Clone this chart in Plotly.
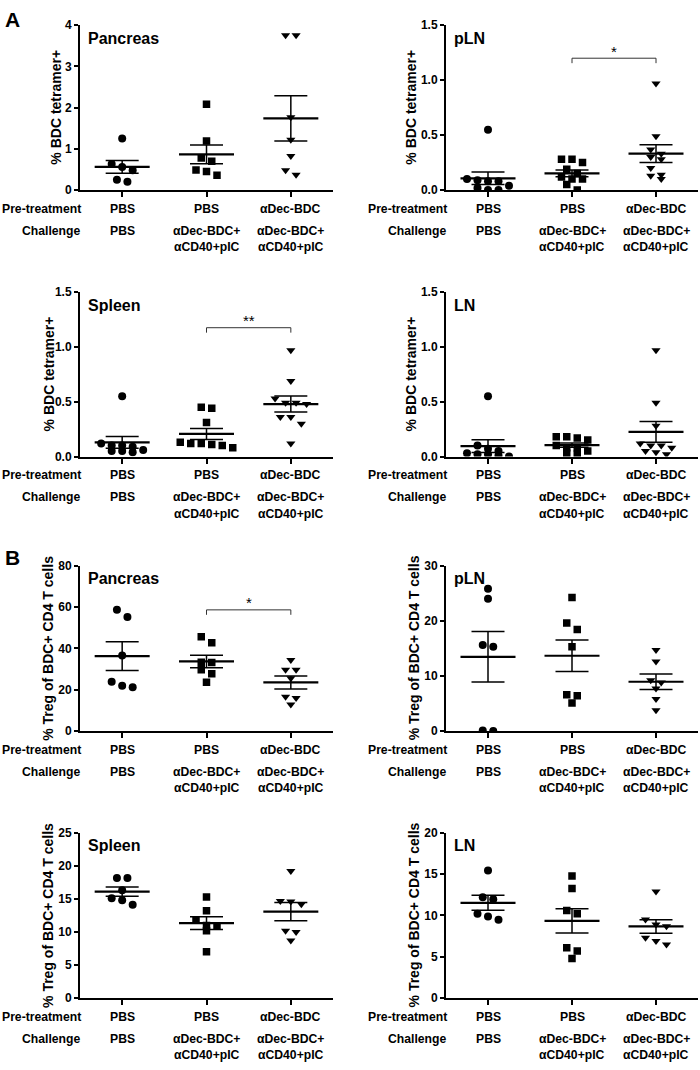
import plotly.graph_objects as go
import numpy as np

W, H = 700, 1070

# ---------------- data ----------------
pretreat_labels = ["PBS", "PBS", "αDec-BDC"]
challenge_labels = [["PBS"], ["αDec-BDC+", "αCD40+pIC"], ["αDec-BDC+", "αCD40+pIC"]]

# A: % BDC tetramer+
panc_bdc_pbs = [1.25, 0.63, 0.56, 0.48, 0.20, 0.25]
panc_bdc_chal = [2.08, 1.19, 0.78, 0.70, 0.49, 0.45, 0.36]
panc_bdc_dec = [3.76, 3.76, 1.77, 1.22, 0.83, 0.48, 0.37]

pln_bdc_pbs = [0.55, 0.10, 0.09, 0.08, 0.08, 0.04, 0.02, 0.00, 0.00]
pln_bdc_chal = [0.28, 0.25, 0.28, 0.19, 0.15, 0.12, 0.10, 0.10, 0.05, 0.00]
pln_bdc_dec = [0.97, 0.49, 0.37, 0.33, 0.30, 0.28, 0.20, 0.14, 0.13, 0.10]

spl_bdc_pbs = [0.55, 0.12, 0.10, 0.10, 0.09, 0.06, 0.05, 0.05, 0.04]
spl_bdc_chal = [0.45, 0.44, 0.31, 0.13, 0.12, 0.12, 0.11, 0.10, 0.08]
spl_bdc_dec = [0.97, 0.69, 0.53, 0.49, 0.48, 0.49, 0.36, 0.30, 0.36, 0.12]

ln_bdc_pbs = [0.55, 0.10, 0.07, 0.05, 0.03, 0.02, 0.01, 0.00, 0.02]
ln_bdc_chal = [0.18, 0.17, 0.18, 0.15, 0.10, 0.08, 0.08, 0.05, 0.03, 0.02]
ln_bdc_dec = [0.97, 0.49, 0.28, 0.12, 0.10, 0.10, 0.08, 0.05, 0.04, 0.02]

# B: % Treg of BDC+ CD4 T cells
panc_treg_pbs = [58.6, 55.2, 36.5, 23.8, 21.2, 21.9]
panc_treg_chal = [45.6, 42.7, 33.2, 33.3, 29.6, 27.7, 23.6]
panc_treg_dec = [34.4, 29.6, 29.6, 25.5, 16.6, 16.0, 12.9]

pln_treg_pbs = [25.8, 24.0, 15.6, 15.3, 0.1, 0.0]
pln_treg_chal = [24.2, 19.6, 18.4, 15.3, 6.6, 6.4, 5.1]
pln_treg_dec = [14.7, 12.6, 8.8, 9.2, 7.7, 5.8, 3.8]

spl_treg_pbs = [18.15, 18.15, 16.3, 15.1, 14.8, 14.1]
spl_treg_chal = [15.3, 13.2, 11.8, 10.9, 11.0, 10.2, 7.0]
spl_treg_dec = [19.2, 14.7, 14.2, 14.6, 10.2, 8.7, 10.0]

ln_treg_pbs = [15.45, 12.2, 11.95, 10.2, 9.87, 9.47]
ln_treg_chal = [14.77, 13.26, 10.6, 10.2, 6.1, 5.7, 4.8]
ln_treg_dec = [12.9, 9.5, 8.7, 8.9, 7.3, 6.5, 6.9]

# significance: (group a, group b, bracket level, label)
sig_pln_bdc = (1, 2, 1.20, "*")
sig_spl_bdc = (1, 2, 1.176, "**")
sig_panc_treg = (1, 2, 58.6, "*")

# ---------------- layout geometry ----------------
FONT = "Liberation Sans, Arial, sans-serif"
col_px = [(80, 333), (446, 698)]
row_px = [(18.5, 185.5), (289, 455.5), (566, 733.7), (836.7, 1004.3)]

panels = [
    dict(name="Pancreas", data=[panc_bdc_pbs, panc_bdc_chal, panc_bdc_dec], ymax=4,
         tickvals=[0, 1, 2, 3, 4], fmt="d", ytitle="% BDC tetramer+", row=0, col=0, sig=None, ytx=56),
    dict(name="pLN", data=[pln_bdc_pbs, pln_bdc_chal, pln_bdc_dec], ymax=1.5,
         tickvals=[0, 0.5, 1.0, 1.5], fmt=".1f", ytitle="% BDC tetramer+", row=0, col=1, sig=sig_pln_bdc, ytx=411),
    dict(name="Spleen", data=[spl_bdc_pbs, spl_bdc_chal, spl_bdc_dec], ymax=1.5,
         tickvals=[0, 0.5, 1.0, 1.5], fmt=".1f", ytitle="% BDC tetramer+", row=1, col=0, sig=sig_spl_bdc, ytx=49),
    dict(name="LN", data=[ln_bdc_pbs, ln_bdc_chal, ln_bdc_dec], ymax=1.5,
         tickvals=[0, 0.5, 1.0, 1.5], fmt=".1f", ytitle="% BDC tetramer+", row=1, col=1, sig=None, ytx=411),
    dict(name="Pancreas", data=[panc_treg_pbs, panc_treg_chal, panc_treg_dec], ymax=80,
         tickvals=[0, 20, 40, 60, 80], fmt="d", ytitle="% Treg of BDC+ CD4 T cells", row=2, col=0, sig=sig_panc_treg, ytx=48.5),
    dict(name="pLN", data=[pln_treg_pbs, pln_treg_chal, pln_treg_dec], ymax=30,
         tickvals=[0, 10, 20, 30], fmt="d", ytitle="% Treg of BDC+ CD4 T cells", row=2, col=1, sig=None, ytx=414),
    dict(name="Spleen", data=[spl_treg_pbs, spl_treg_chal, spl_treg_dec], ymax=25,
         tickvals=[0, 5, 10, 15, 20, 25], fmt="d", ytitle="% Treg of BDC+ CD4 T cells", row=3, col=0, sig=None, ytx=48.5),
    dict(name="LN", data=[ln_treg_pbs, ln_treg_chal, ln_treg_dec], ymax=20,
         tickvals=[0, 5, 10, 15, 20], fmt="d", ytitle="% Treg of BDC+ CD4 T cells", row=3, col=1, sig=None, ytx=414),
]

symbols = ["circle", "square", "triangle-down"]
msizes = [8, 7.5, 8]


def px_x(p):
    return p / W


def px_y(p):
    return 1 - p / H


def swarm(vals, px_per_unit, spacing_units, thresh_px=7.5):
    vals = np.asarray(vals, dtype=float)
    order = np.argsort(-vals, kind="stable")
    rows = []
    for idx in order:
        if rows and (vals[rows[-1][0]] - vals[idx]) * px_per_unit <= thresh_px:
            rows[-1].append(idx)
        else:
            rows.append([idx])
    offs = np.zeros(len(vals))
    for r in rows:
        k = len(r)
        for j, idx in enumerate(r):
            offs[idx] = (j - (k - 1) / 2.0) * spacing_units
    return offs


fig = go.Figure()
annotations = []
shapes = []
layout_axes = {}
LBL = 12.2

for n, p in enumerate(panels, start=1):
    xs = "" if n == 1 else str(n)
    x0, x1 = col_px[p["col"]]
    y0, y1 = row_px[p["row"]]
    xpu = (x1 - x0) / 3.0
    ypu = (y1 - y0) / p["ymax"]
    spacing = 10.5 / xpu

    layout_axes["xaxis" + xs] = dict(
        domain=[px_x(x0), px_x(x1)], range=[-0.5, 2.5], anchor="y" + xs,
        showline=True, linewidth=2, linecolor="black", ticks="outside", ticklen=5,
        tickwidth=2, tickcolor="black", tickvals=[0, 1, 2], showticklabels=False,
        showgrid=False, zeroline=False, fixedrange=True)
    ticktext = [format(v, p["fmt"]) if p["fmt"] != "d" else str(int(v)) for v in p["tickvals"]]
    layout_axes["yaxis" + xs] = dict(
        domain=[px_y(y1), px_y(y0)], range=[0, p["ymax"]], anchor="x" + xs,
        showline=True, linewidth=2, linecolor="black", ticks="outside", ticklen=4,
        tickwidth=2, tickcolor="black", tickvals=p["tickvals"], ticktext=ticktext,
        tickfont=dict(family=FONT, size=12, color="black", weight="bold"),
        showgrid=False, zeroline=False, fixedrange=True)

    for g, vals in enumerate(p["data"]):
        offs = swarm(vals, ypu, spacing)
        fig.add_trace(go.Scatter(
            x=g + offs, y=vals, mode="markers", xaxis="x" + xs, yaxis="y" + xs,
            marker=dict(symbol=symbols[g], size=msizes[g], color="black", line=dict(width=0)),
            showlegend=False, hoverinfo="y"))
        arr = np.asarray(vals, dtype=float)
        m = arr.mean()
        s = arr.std(ddof=1) / np.sqrt(len(arr))
        hw_mean = 27.5 / xpu
        hw_sem = 16.5 / xpu
        fig.add_trace(go.Scatter(
            x=[g - hw_mean, g + hw_mean], y=[m, m], mode="lines",
            xaxis="x" + xs, yaxis="y" + xs, line=dict(color="black", width=2.2),
            showlegend=False, hoverinfo="skip"))
        fig.add_trace(go.Scatter(
            x=[g - hw_sem, g + hw_sem, None, g - hw_sem, g + hw_sem, None, g, g],
            y=[m + s, m + s, None, m - s, m - s, None, m - s, m + s], mode="lines",
            xaxis="x" + xs, yaxis="y" + xs, line=dict(color="black", width=1.5),
            showlegend=False, hoverinfo="skip"))

    # panel name
    tx = x0 + 6
    annotations.append(dict(
        x=px_x(tx), y=px_y(y0 + 13), xref="paper", yref="paper", xanchor="left", yanchor="middle",
        text="<b>%s</b>" % p["name"], showarrow=False, font=dict(family=FONT, size=16, color="black")))

    # y title
    annotations.append(dict(
        x=px_x(p["ytx"]), y=px_y((y0 + y1) / 2), xref="paper", yref="paper",
        xanchor="center", yanchor="middle", textangle=-90,
        text="<b>%s</b>" % p["ytitle"], showarrow=False, font=dict(family=FONT, size=14, color="black")))

    # category labels
    base = y1
    for g in range(3):
        annotations.append(dict(
            x=g, y=px_y(base + 19), xref="x" + xs, yref="paper", xanchor="center", yanchor="middle",
            text="<b>%s</b>" % pretreat_labels[g], showarrow=False,
            font=dict(family=FONT, size=LBL, color="black")))
        for li, line in enumerate(challenge_labels[g]):
            annotations.append(dict(
                x=g, y=px_y(base + 41 + 17 * li), xref="x" + xs, yref="paper", xanchor="center",
                yanchor="middle", text="<b>%s</b>" % line, showarrow=False,
                font=dict(family=FONT, size=LBL, color="black")))
    rx = x0 + 3
    annotations.append(dict(
        x=px_x(rx), y=px_y(base + 19), xref="paper", yref="paper", xanchor="right", yanchor="middle",
        text="<b>Pre-treatment</b>", showarrow=False, font=dict(family=FONT, size=LBL, color="black")))
    annotations.append(dict(
        x=px_x(rx - 1), y=px_y(base + 41), xref="paper", yref="paper", xanchor="right", yanchor="middle",
        text="<b>Challenge</b>", showarrow=False, font=dict(family=FONT, size=LBL, color="black")))

    # significance bracket
    if p["sig"] is not None:
        ga, gb, lvl, lab = p["sig"]
        drop = 5 / ypu
        shapes.append(dict(
            type="path", xref="x" + xs, yref="y" + xs,
            path="M %f,%f L %f,%f L %f,%f L %f,%f" % (ga, lvl - drop, ga, lvl, gb, lvl, gb, lvl - drop),
            line=dict(color="#333333", width=1)))
        annotations.append(dict(
            x=(ga + gb) / 2, y=lvl + 7 / ypu, xref="x" + xs, yref="y" + xs, xanchor="center",
            yanchor="middle", text=lab, showarrow=False, font=dict(family=FONT, size=15, color="black")))

# panel letters
annotations.append(dict(x=px_x(3), y=px_y(12.5), xref="paper", yref="paper", xanchor="left", yanchor="middle",
                        text="<b>A</b>", showarrow=False, font=dict(family=FONT, size=21, color="black")))
annotations.append(dict(x=px_x(3), y=px_y(557.5), xref="paper", yref="paper", xanchor="left", yanchor="middle",
                        text="<b>B</b>", showarrow=False, font=dict(family=FONT, size=21, color="black")))

fig.update_layout(
    width=W, height=H, margin=dict(l=0, r=0, t=0, b=0),
    paper_bgcolor="white", plot_bgcolor="white", showlegend=False,
    annotations=annotations, shapes=shapes, **layout_axes)

fig.write_html("out.html",
               config={"displayModeBar": False},
               post_script="document.body.style.margin='0';document.body.style.padding='0';"
                           "document.body.style.overflow='hidden';")
